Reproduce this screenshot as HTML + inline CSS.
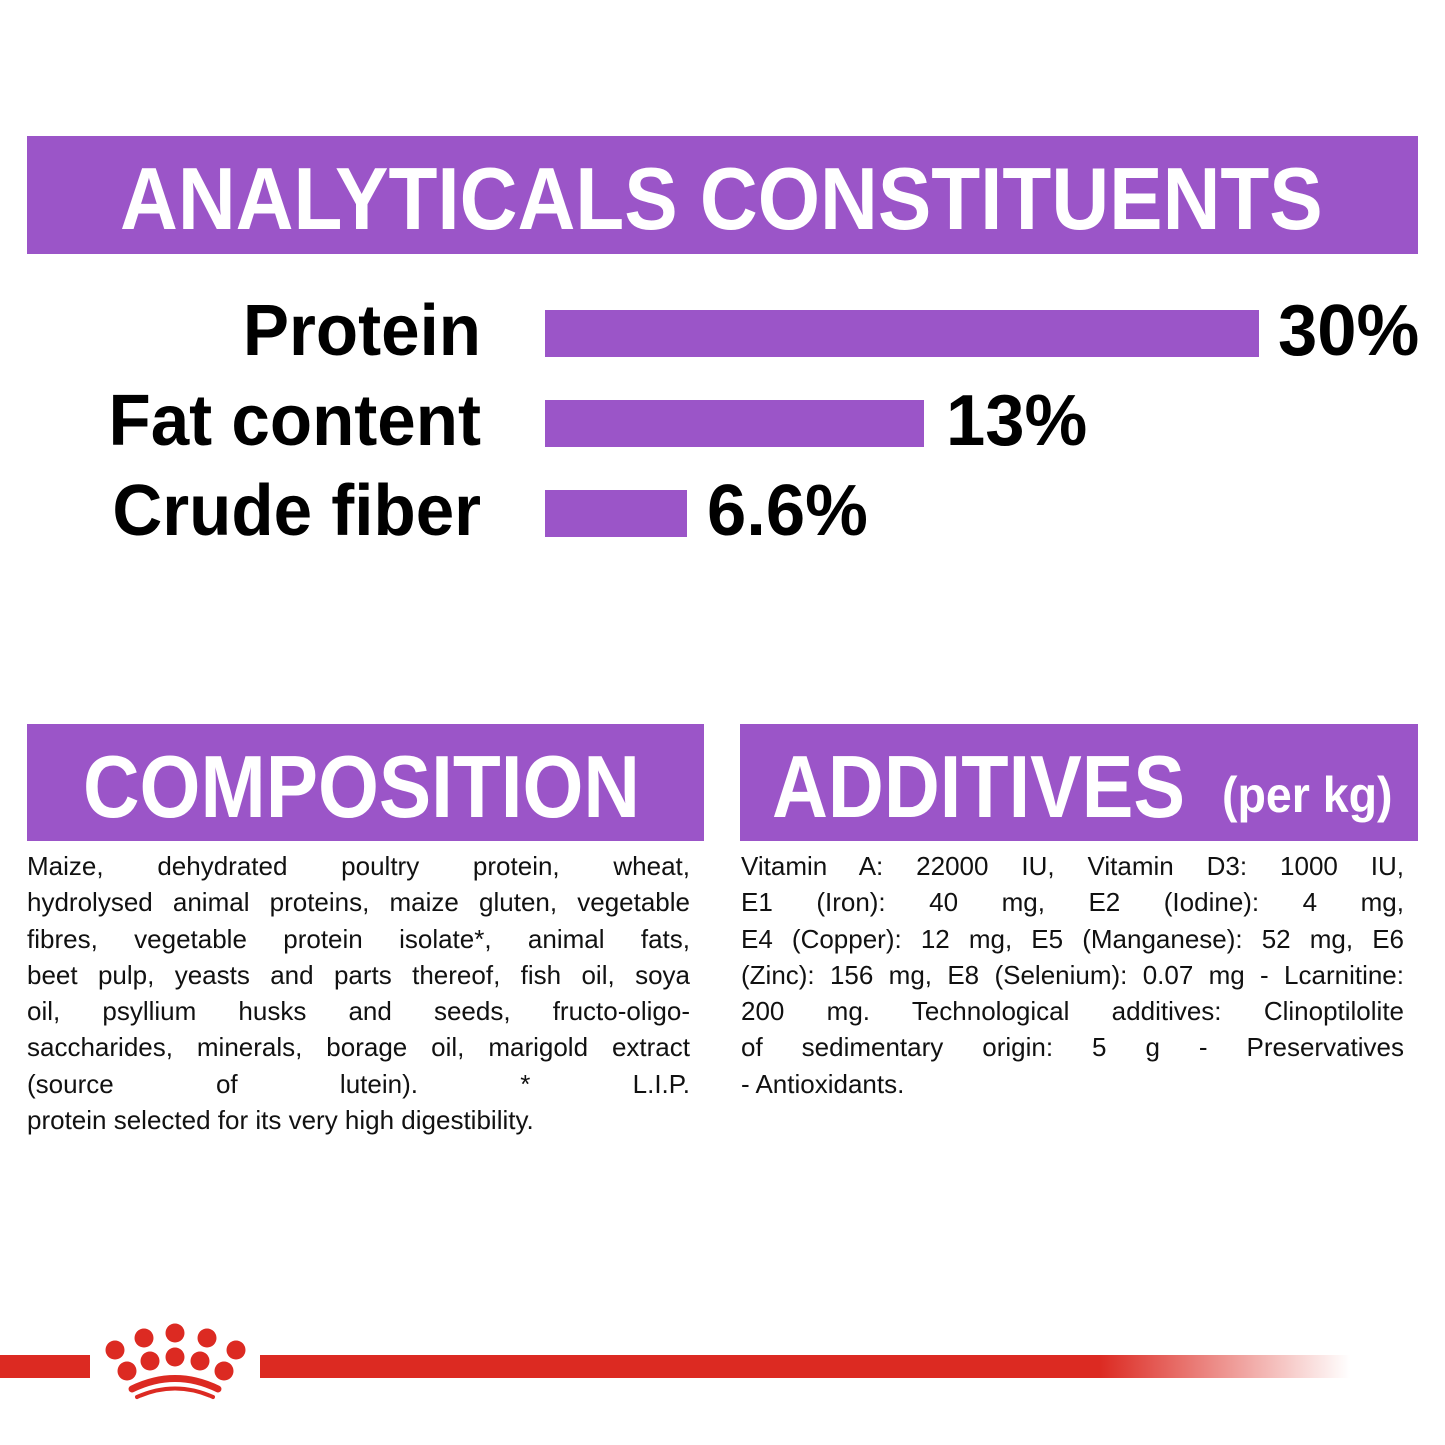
<!DOCTYPE html>
<html><head><style>
body{margin:0;width:1445px;height:1445px;background:#fff;position:relative;overflow:hidden;font-family:"Liberation Sans",sans-serif}
.box{position:absolute;background:#9b55c8}
.h{position:absolute;color:#fff;font-weight:bold;white-space:nowrap;transform-origin:0 0}
.lab{position:absolute;right:964px;font-weight:bold;font-size:72px;color:#000;white-space:nowrap;transform-origin:100% 50%;transform:scaleX(0.96)}
.pct{position:absolute;font-weight:bold;font-size:72px;color:#000;white-space:nowrap;transform-origin:0 50%;transform:scaleX(0.98)}
.bar{position:absolute;left:545px;height:47px;background:#9b55c8}
.txt{position:absolute;font-size:26px;line-height:36.3px;color:#111}
.txt div{text-align:justify;text-align-last:justify;white-space:nowrap;height:36.3px}
.txt div.l{text-align-last:left}
</style></head><body>
<div class="box" style="left:27px;top:136px;width:1391px;height:118px"></div>
<div class="h" style="left:120px;top:148px;font-size:88px;transform:scaleX(0.91)">ANALYTICALS CONSTITUENTS</div>

<div class="lab" style="top:290px">Protein</div>
<div class="lab" style="top:380px">Fat content</div>
<div class="lab" style="top:470px">Crude fiber</div>
<div class="bar" style="top:310px;width:714px"></div>
<div class="bar" style="top:400px;width:379px"></div>
<div class="bar" style="top:490px;width:142px"></div>
<div class="pct" style="left:1278px;top:290px">30%</div>
<div class="pct" style="left:946px;top:380px">13%</div>
<div class="pct" style="left:707px;top:470px">6.6%</div>

<div class="box" style="left:27px;top:724px;width:677px;height:117px"></div>
<div class="h" style="left:83px;top:736px;font-size:88px;transform:scaleX(0.89)">COMPOSITION</div>
<div class="box" style="left:740px;top:724px;width:678px;height:117px"></div>
<div class="h" style="left:772px;top:736px;font-size:88px;transform:scaleX(0.88)">ADDITIVES</div>
<div class="h" style="left:1222px;top:766px;font-size:50px;transform:scaleX(0.93)">(per kg)</div>

<div class="txt" style="left:27px;top:848px;width:663px">
<div>Maize, dehydrated poultry protein, wheat,</div>
<div>hydrolysed animal proteins, maize gluten, vegetable</div>
<div>fibres, vegetable protein isolate*, animal fats,</div>
<div>beet pulp, yeasts and parts thereof, fish oil, soya</div>
<div>oil, psyllium husks and seeds, fructo-oligo-</div>
<div>saccharides, minerals, borage oil, marigold extract</div>
<div>(source of lutein). * L.I.P.</div>
<div class="l">protein selected for its very high digestibility.</div>
</div>
<div class="txt" style="left:741px;top:848px;width:663px">
<div>Vitamin A: 22000 IU, Vitamin D3: 1000 IU,</div>
<div>E1 (Iron): 40 mg, E2 (Iodine): 4 mg,</div>
<div>E4 (Copper): 12 mg, E5 (Manganese): 52 mg, E6</div>
<div>(Zinc): 156 mg, E8 (Selenium): 0.07 mg - Lcarnitine:</div>
<div>200 mg. Technological additives: Clinoptilolite</div>
<div>of sedimentary origin: 5 g - Preservatives</div>
<div class="l">- Antioxidants.</div>
</div>

<div style="position:absolute;left:0;top:1355px;width:90px;height:23px;background:#dc2a22"></div>
<div style="position:absolute;left:260px;top:1355px;width:1090px;height:23px;background:linear-gradient(90deg,#dc2a22 0,#dc2a22 77%,#fff 100%)"></div>
<svg style="position:absolute;left:0;top:0" width="1445" height="1445">
<g fill="#dc2a22">
<circle cx="115" cy="1350" r="9.5"/><circle cx="144" cy="1338" r="9.5"/><circle cx="175" cy="1333" r="9.5"/><circle cx="207" cy="1338" r="9.5"/><circle cx="236" cy="1350" r="9.5"/>
<circle cx="127" cy="1371" r="9.5"/><circle cx="150" cy="1361" r="9.5"/><circle cx="175" cy="1357" r="9.5"/><circle cx="200" cy="1361" r="9.5"/><circle cx="224" cy="1371" r="9.5"/>
</g>
<path d="M132 1389 Q175 1368 218 1389" stroke="#dc2a22" stroke-width="7" fill="none" stroke-linecap="round"/>
<path d="M137 1397 Q175 1380 213 1397" stroke="#dc2a22" stroke-width="4" fill="none" stroke-linecap="round"/>
</svg>
</body></html>
